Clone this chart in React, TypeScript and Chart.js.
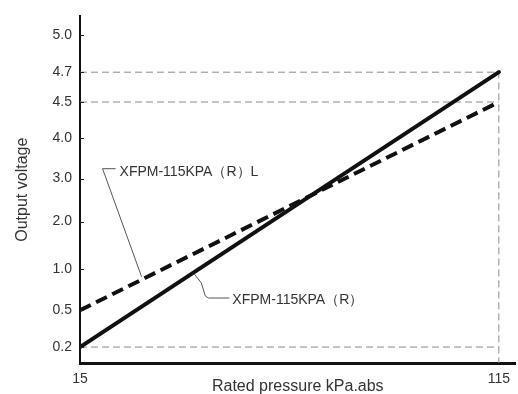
import React, { useEffect, useRef } from "react";
import { Chart, registerables, LinearScale } from "chart.js";

// ---- data ----
const pressureKPa = [15, 115];
const outputR = [0.2, 4.7];
const outputRL = [0.5, 4.5];
const yTickValues = [0.2, 0.5, 1.0, 2.0, 3.0, 4.0, 4.5, 4.7, 5.0];
const xTickValues = [15, 115];
const seriesRLabel = "XFPM-115KPA（R）L";
const seriesRLabelAt = 29.7; // kPa, where the leader touches the line
const seriesRLabel2 = "XFPM-115KPA（R）";
const seriesRLabel2At = 42.3;
const refLevels = [4.7, 4.5, 0.2];

// ---- schematic (non-uniform) voltage axis of the original drawing ----
const Y_VALUE_STOPS = [0, 0.2, 0.5, 1, 2, 3, 4, 4.5, 4.7, 5.0, 5.5];
const Y_FRACTION_STOPS = [0, 0.046, 0.152, 0.27, 0.408, 0.532, 0.649, 0.753, 0.839, 0.945, 1];

function interp(v: number, xs: number[], ys: number[]) {
  if (v <= xs[0]) return ys[0] + ((v - xs[0]) * (ys[1] - ys[0])) / (xs[1] - xs[0]);
  for (let i = 1; i < xs.length; i++) {
    if (v <= xs[i]) {
      const t = (v - xs[i - 1]) / (xs[i] - xs[i - 1]);
      return ys[i - 1] + t * (ys[i] - ys[i - 1]);
    }
  }
  const n = xs.length - 1;
  return ys[n] + ((v - xs[n]) * (ys[n] - ys[n - 1])) / (xs[n] - xs[n - 1]);
}

class SchematicScale extends LinearScale {
  static id = "schematic";
  static defaults = LinearScale.defaults;
  getPixelForValue(value: any) {
    if (value === null || value === undefined || isNaN(value)) return NaN;
    return this.getPixelForDecimal(interp(value, Y_VALUE_STOPS, Y_FRACTION_STOPS));
  }
  getValueForPixel(pixel: number) {
    return interp(this.getDecimalForPixel(pixel), Y_FRACTION_STOPS, Y_VALUE_STOPS);
  }
}

Chart.register(...registerables, SchematicScale as any);

const FONT = "'Liberation Sans', Arial, Helvetica, sans-serif";

const pts = (ys: number[]) => pressureKPa.map((x, i) => ({ x, y: ys[i] }));

const annotationPlugin = {
  id: "annotations",
  afterDatasetsDraw(chart: any) {
    const { ctx, scales, chartArea } = chart;
    const xs = scales.x;
    const ys = scales.y;
    // inward tick marks on the voltage axis
    ctx.save();
    ctx.strokeStyle = "#222";
    ctx.lineWidth = 1;
    ys.ticks.forEach((t: any) => {
      const py = Math.round(ys.getPixelForValue(t.value)) + 0.5;
      ctx.beginPath();
      ctx.moveTo(chartArea.left, py);
      ctx.lineTo(chartArea.left + 4, py);
      ctx.stroke();
    });

    const onLine = (series: number[], atX: number) => {
      const x0 = xs.getPixelForValue(pressureKPa[0]);
      const x1 = xs.getPixelForValue(pressureKPa[1]);
      const y0 = ys.getPixelForValue(series[0]);
      const y1 = ys.getPixelForValue(series[1]);
      const t = (atX - pressureKPa[0]) / (pressureKPa[1] - pressureKPa[0]);
      return { x: x0 + t * (x1 - x0), y: y0 + t * (y1 - y0) };
    };

    const drawLabel = (anchor: any, path: number[][], textOff: number[], text: string) => {
      ctx.strokeStyle = "#555";
      ctx.lineWidth = 1;
      ctx.beginPath();
      path.forEach(([dx, dy], i) => {
        const px = anchor.x + dx;
        const py = anchor.y + dy;
        if (i === 0) ctx.moveTo(px, py);
        else ctx.lineTo(px, py);
      });
      ctx.stroke();
      ctx.fillStyle = "#333";
      ctx.font = `14px ${FONT}`;
      ctx.textAlign = "left";
      ctx.textBaseline = "middle";
      ctx.fillText(text, anchor.x + textOff[0], anchor.y + textOff[1]);
    };

    drawLabel(
      onLine(outputRL, seriesRLabelAt),
      [[0, -3], [-39, -111], [-26, -111]],
      [-22, -108],
      seriesRLabel
    );
    drawLabel(
      onLine(outputR, seriesRLabel2At),
      [[0, 2], [7, 11], [11, 24], [14, 26], [35, 26]],
      [38, 28],
      seriesRLabel2
    );
    ctx.restore();
  },
};

export default function App() {
  const ref = useRef<HTMLCanvasElement>(null);
  useEffect(() => {
    if (!ref.current) return;
    Chart.defaults.font.family = FONT;
    Chart.defaults.color = "#333";
    const refDatasets = refLevels.map((lv, i) => ({
      label: `ref${lv}`,
      data:
        i === 0
          ? [
              { x: pressureKPa[0], y: lv },
              { x: pressureKPa[1], y: lv },
              { x: pressureKPa[1], y: Y_VALUE_STOPS[0] },
            ]
          : [
              { x: pressureKPa[0], y: lv },
              { x: pressureKPa[1], y: lv },
            ],
      borderColor: "#8c8c8c",
      borderWidth: 1,
      borderDash: [7, 4],
      pointRadius: 0,
      order: 10,
    }));
    const chart = new Chart(ref.current, {
      type: "line",
      data: {
        datasets: [
          {
            label: "XFPM-115KPA（R）",
            data: pts(outputR),
            borderColor: "#111",
            borderWidth: 4,
            borderCapStyle: "round",
            pointRadius: 0,
            order: 1,
          },
          {
            label: "XFPM-115KPA（R）L",
            data: pts(outputRL),
            borderColor: "#111",
            borderWidth: 4,
            borderDash: [12, 6],
            pointRadius: 0,
            order: 2,
          },
          ...refDatasets,
        ] as any,
      },
      options: {
        responsive: false,
        animation: false,
        layout: { padding: { top: 15, right: 0, left: 0, bottom: 0 } },
        plugins: { legend: { display: false }, tooltip: { enabled: false } },
        scales: {
          x: {
            type: "linear",
            min: 15,
            max: 119,
            afterFit: (s: any) => {
              s.height = 31;
            },
            afterBuildTicks: (s: any) => {
              s.ticks = xTickValues.map((v) => ({ value: v }));
            },
            grid: { display: false, drawTicks: false },
            border: { display: true, color: "#111", width: 3 },
            ticks: {
              padding: 8,
              font: { size: 14 },
              color: "#333",
              maxRotation: 0,
              callback: (v: any) => String(v),
            },
            title: {
              display: true,
              text: "Rated pressure kPa.abs",
              font: { size: 16, lineHeight: 0.9 },
              color: "#333",
              padding: 0,
            },
          },
          y: {
            type: "schematic" as any,
            min: 0,
            max: 5.5,
            afterFit: (s: any) => {
              s.width = 80;
            },
            afterBuildTicks: (s: any) => {
              s.ticks = yTickValues.map((v) => ({ value: v }));
            },
            grid: { display: false, drawTicks: false },
            border: { display: true, color: "#111", width: 2 },
            ticks: {
              padding: 8,
              font: { size: 14 },
              color: "#333",
              callback: (v: any) => Number(v).toFixed(1),
            },
            title: {
              display: true,
              text: "Output voltage",
              font: { size: 16, lineHeight: 1.2 },
              color: "#333",
              padding: { top: 13, bottom: 0 },
            },
          } as any,
        },
      },
      plugins: [annotationPlugin],
    });
    return () => chart.destroy();
  }, []);
  return (
    <div
      style={{
        position: "fixed",
        left: 0,
        top: 0,
        width: 518,
        height: 394,
        background: "#fff",
      }}
    >
      <canvas ref={ref} width={518} height={394} style={{ display: "block" }} />
    </div>
  );
}
